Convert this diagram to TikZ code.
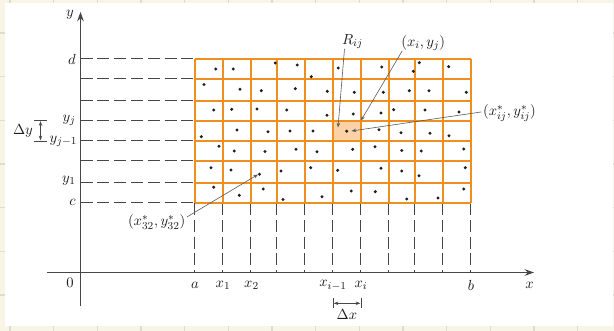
\documentclass[tikz,border=0pt]{standalone}
\usetikzlibrary{arrows.meta}
\definecolor{bg}{RGB}{248,245,230}
\definecolor{bgline}{RGB}{224,220,204}
\definecolor{gridor}{RGB}{240,142,32}
\definecolor{cellfill}{RGB}{250,210,165}
\definecolor{ink}{RGB}{30,30,30}
\definecolor{axisc}{RGB}{70,70,70}
\definecolor{leadc}{RGB}{90,90,90}
\begin{document}
\begin{tikzpicture}[x=0.75pt,y=-0.75pt,
  lbl/.style={font=\fontsize{11}{13}\selectfont, text=ink, inner sep=0pt},
  dashln/.style={draw=axisc, line width=0.75pt, dash pattern=on 9pt off 3.6pt},
  gridln/.style={draw=gridor, line width=1.5pt},
  axisln/.style={draw=axisc, line width=0.95pt},
  leadln/.style={draw=leadc, line width=0.45pt, -{Stealth[length=3.5pt,width=2.6pt]}},
  dimln/.style={draw=axisc, line width=0.55pt},
  dot/.style={fill=ink}]
\useasboundingbox (0,0) rectangle (614,331);
% page background
\fill[bg] (0,0) rectangle (614,331);
\foreach \k in {0,...,13} \draw[bgline, line width=1pt] ({10+43.67*\k},0) -- ({10+43.67*\k},331);
\foreach \k in {0,...,6} \draw[bgline, line width=1pt] (0,{33+43.67*\k}) -- (614,{33+43.67*\k});
\fill[white] (5,3.3) rectangle (612.7,325.7);
% dashed guide lines
\foreach \yy in {59,79,101,121,141,161,183,203} \draw[dashln] (80.5,\yy-0.5) -- (195,\yy-0.5);
\foreach \xx in {195,223,251,277,305,333,361,389,415,443,471} \draw[dashln] (\xx-0.5,203) -- (\xx-0.5,272.5);
% shaded cell
\fill[cellfill] (333,121) rectangle (361,141);
% grid
\foreach \xx in {195,223,251,277,305,333,361,389,415,443,471} \draw[gridln] (\xx,59) -- (\xx,203);
\foreach \yy in {59,79,101,121,141,161,183,203} \draw[gridln] (195,\yy) -- (471,\yy);
% sample points
\foreach \p in {
 (215.7,69),(233.3,69),(275.3,63),(297.3,65),(311.3,76.7),(338.3,68),(381.7,67),(413.3,71.3),(419.3,62.7),(448.7,66.7),
 (204,84.5),(240,89.3),(261.3,90.7),(295.3,88.7),(327.3,91.3),(354.3,92.3),(383.3,92.3),(409.3,90.7),(429,90.7),(466.3,92.3),
 (213.7,110),(231.7,109.3),(257,109),(286.7,110),(327,115.3),(353.3,114),(381,113),(393.7,109.7),(425,110),(459,112),
 (201.3,136.7),(237,130),(268,131.7),(290,131),(313,131),(346.7,131.2),(379,129.7),(401,132.7),(430,133.3),(449,135.7),
 (219,146.3),(234.3,151),(265,151.5),(296,149.3),(317,151.7),(352.7,149.3),(375,146.7),(401.7,150.5),(421.3,151),(463.7,149),
 (211,167.7),(231,170),(259.5,174.3),(281,171),(310.7,167.7),(337.7,170.3),(381,168.3),(401.7,171),(419,175.7),(465.3,167.7),
 (213.7,187.2),(239.3,195.3),(263.3,189),(283,199.5),(322,196.7),(351.3,191),(375.3,191.7),(406.7,199),(438,198),(463.7,189)}
  \fill[dot] \p circle[radius=1.25pt];
% axes
\coordinate (xa0) at (47,272.5);
\coordinate (xa1) at (534,272.5);
\coordinate (ya0) at (80.5,306);
\coordinate (ya1) at (80.5,12);
\draw[axisln, -{Stealth[length=7pt,width=5pt]}] (xa0) -- (xa1);
\draw[axisln, -{Stealth[length=7pt,width=5pt]}] (ya0) -- (ya1);
% axis labels
\node[lbl] (ylab) at (70,15) {$y$};
\node[lbl] (xlab) at (529.5,285) {$x$};
\node[lbl] (zero) at (70,283) {$0$};
\node[lbl, anchor=east] (dlab) at (76,59) {$d$};
\node[lbl, anchor=east] (yjlab) at (76,120) {$y_j$};
\node[lbl, anchor=east] (yjmlab) at (77.5,141.5) {$y_{j-1}$};
\node[lbl, anchor=east] (y1lab) at (76,181) {$y_1$};
\node[lbl, anchor=east] (clab) at (76,202.5) {$c$};
\node[lbl] (alab) at (195,285) {$a$};
\node[lbl] (x1lab) at (223,285.5) {$x_1$};
\node[lbl] (x2lab) at (251.5,285.5) {$x_2$};
\node[lbl] (ximlab) at (333,285.5) {$x_{i-1}$};
\node[lbl] (xilab) at (361,285.5) {$x_i$};
\node[lbl] (blab) at (471,285) {$b$};
% Delta y
\coordinate (dyt1) at (34,120.5); \coordinate (dyt2) at (47,120.5);
\coordinate (dyb1) at (34,141);   \coordinate (dyb2) at (47,141);
\coordinate (dya) at (40.5,121.2); \coordinate (dyb) at (40.5,140.3);
\draw[dimln] (dyt1) -- (dyt2);
\draw[dimln] (dyb1) -- (dyb2);
\draw[dimln, {Stealth[length=3.5pt,width=2.6pt]}-{Stealth[length=3.5pt,width=2.6pt]}] (dya) -- (dyb);
\node[lbl] (dylab) at (23,131) {$\Delta y$};
% Delta x
\coordinate (dxl1) at (333,298); \coordinate (dxl2) at (333,308.5);
\coordinate (dxr1) at (361,298); \coordinate (dxr2) at (361,308.5);
\coordinate (dxa) at (333.7,303.3); \coordinate (dxb) at (360.3,303.3);
\draw[dimln] (dxl1) -- (dxl2);
\draw[dimln] (dxr1) -- (dxr2);
\draw[dimln, {Stealth[length=3.5pt,width=2.6pt]}-{Stealth[length=3.5pt,width=2.6pt]}] (dxa) -- (dxb);
\node[lbl] (dxlab) at (347,315) {$\Delta x$};
% annotations
\node[lbl] (Rij) at (352.5,41.5) {$R_{ij}$};
\node[lbl] (xyij) at (423.3,43) {$(x_i, y_j)$};
\node[lbl] (xystar) at (509.5,113) {$(x^*_{ij}, y^*_{ij})$};
\node[lbl] (xy32) at (156.7,222) {$(x^*_{32}, y^*_{32})$};
\coordinate (pR) at (338,127.5);
\coordinate (pxy) at (361,120.5);
\coordinate (pstar) at (351.5,131);
\coordinate (p32) at (258,174.5);
\draw[leadln] ([xshift=2pt]Rij.south west) -- (pR);
\draw[leadln] ([xshift=0.8pt]xyij.south west) -- (pxy);
\draw[leadln] ([xshift=-1pt,yshift=0.8pt]xystar.west) -- (pstar);
\draw[leadln] ([xshift=1pt,yshift=3.8pt]xy32.east) -- (p32);
\end{tikzpicture}
\end{document}
